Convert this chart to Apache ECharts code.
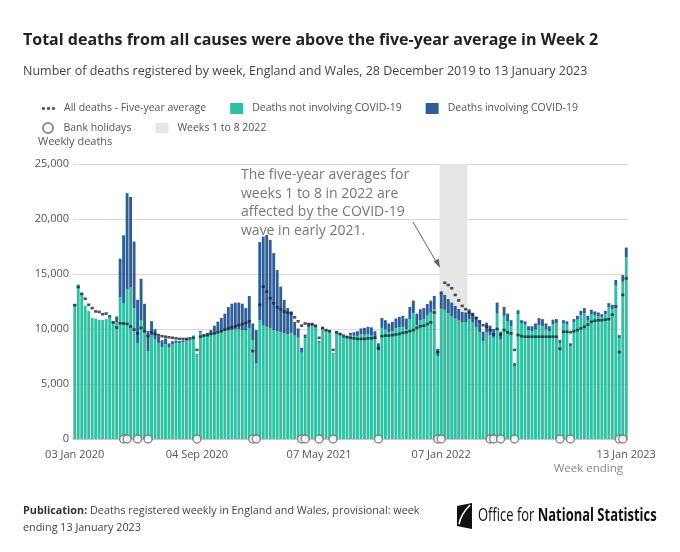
<!DOCTYPE html>
<html>
<head>
<meta charset="utf-8">
<script src="https://cdn.jsdelivr.net/npm/echarts@6/dist/echarts.min.js"></script>
<style>
html, body { margin: 0; padding: 0; background: #fff; }
#main { width: 680px; height: 552px; }
</style>
</head>
<body>
<div id="main"></div>
<script>
// week ending dates, 03 Jan 2020 to 13 Jan 2023
var months = ['Jan','Feb','Mar','Apr','May','Jun','Jul','Aug','Sep','Oct','Nov','Dec'];
var weeks = [];
for(var t = Date.UTC(2020, 0, 3); t <= Date.UTC(2023, 0, 13); t += 7 * 864e5){
	var d = new Date(t);
	weeks.push(('0' + d.getUTCDate()).slice(-2) + ' ' + months[d.getUTCMonth()] + ' ' + d.getUTCFullYear());
}
var labelWeeks = ['03 Jan 2020', '04 Sep 2020', '07 May 2021', '07 Jan 2022', '13 Jan 2023'];

// deaths not involving COVID-19
var nonCovid = [
	12254, 14058, 13240, 12125, 11620, 10990, 10940, 10840, 10820, 10900,
	11015, 10550, 10600, 12910, 12310, 13590, 13760, 11910, 8730, 10760,
	9700, 8000, 9410, 9080, 8740, 8370, 8610, 8320, 8590, 8730,
	8710, 8800, 8960, 8950, 9320, 7660, 9710, 9380, 9410, 9550,
	9650, 9700, 9750, 9800, 9850, 9900, 9950, 9950, 9900, 9850,
	10100, 9000, 6900,
	10800, 10300, 10200, 10100, 9900, 9800, 9700, 9600, 9500, 9650,
	9400, 9200, 7850, 9150, 10120, 10280, 10120, 8750, 10010, 9780,
	9690, 7700, 9690, 9480, 9170, 9230, 9420, 9380, 9380, 9500,
	9480, 9500, 9400, 9080, 8050, 10100, 9950, 9680, 9800, 10070,
	10150, 10200, 9970, 10900, 11430, 10350, 10800, 10900, 11220, 11480,
	11800, 7550,
	11840, 11750, 11430, 11150, 10950, 10770, 10600, 10600, 10890, 10580,
	10170, 9720, 8910, 9680, 9450, 9200, 11400, 9060, 11200, 10700,
	10250, 6600, 11350, 10500, 10400, 9900, 9800, 9950, 10350, 10250,
	9950, 9800, 10450, 10550, 8700, 10500, 10400, 8450, 10600, 10850,
	11250, 11450, 10750, 11350, 11250, 11150, 11050, 11350, 12000, 11800,
	13950, 9150, 14300, 16500
];
// deaths involving COVID-19
var covid = [
	0, 0, 0, 0, 0, 0, 0, 0, 0, 0,
	5, 100, 540, 3480, 6210, 8760, 8240, 6040, 3930, 3810,
	2590, 1820, 1300, 900, 600, 610, 530, 370, 300, 220,
	190, 150, 140, 100, 80, 80, 100, 140, 220, 350,
	650, 970, 1250, 1600, 2150, 2400, 2450, 2450, 2400, 2050,
	2900, 1500, 3000,
	7100, 8100, 8350, 8000, 7000, 5550, 4150, 3050, 2400, 1950,
	1250, 850, 450, 350, 280, 220, 180, 150, 140, 120,
	110, 100, 110, 120, 130, 170, 230, 320, 420, 550,
	620, 700, 750, 720, 650, 900, 850, 820, 850, 880,
	950, 1000, 980, 1100, 1150, 1050, 1000, 1000, 1050, 1100,
	1200, 650,
	1400, 1350, 1300, 1250, 1150, 1050, 950, 900, 900, 900,
	950, 950, 850, 900, 850, 800, 1000, 700, 800, 700,
	550, 300, 350, 300, 300, 350, 450, 550, 650, 650,
	550, 450, 400, 350, 300, 300, 300, 250, 300, 350,
	400, 450, 450, 400, 350, 350, 300, 300, 350, 400,
	500, 300, 600, 900
];
// all deaths, five-year average
var fiveYearAvg = [
	12175, 13822, 13200, 12750, 12200, 11900, 11600, 11550, 11350, 11400,
	11150, 10600, 10130, 10520, 10500, 10460, 10220, 9940, 9600, 10100,
	9800, 9370, 9700, 9550, 9450, 9350, 9300, 9250, 9200, 9150,
	9100, 9100, 9100, 9150, 9200, 8100, 9300, 9400, 9450, 9550,
	9600, 9700, 9800, 9950, 10050, 10150, 10250, 10350, 10450, 10550,
	10700, 8000, null,
	12200, 13850, 13390, 12790, 12330, 11970, 11790, 11580, 11480, 11420,
	11060, 10700, 10300, 10500, 10450, 10450, 10300, 9200, 10100, 9900,
	9800, 8100, 9700, 9550, 9400, 9250, 9200, 9150, 9100, 9100,
	9100, 9150, 9150, 9200, 8250, 9350, 9400, 9400, 9450, 9500,
	9550, 9650, 9700, 9800, 9900, 10100, 10250, 10300, 10450, 10600,
	11500, 7900,
	13300, 14200, 14000, 13700, 13100, 12600, 12100, 11800, 11500, 11300,
	11000, 10700, 10350, 10200, 9900, 9500, 10000, 9500, 9900, 9700,
	9600, 8100, 9450, 9350, 9300, 9300, 9300, 9300, 9300, 9300,
	9300, 9300, 9300, 9300, 8200, 9750, 9750, 9700, 9800, 9900,
	10050, 10200, 10400, 10650, 10750, 10800, 10800, 10850, 10900, 11300,
	12050, 7900, 13100, 14600
];
var bankHolidays = [
	'10 Apr 2020', '17 Apr 2020', '08 May 2020', '29 May 2020', '04 Sep 2020',
	'25 Dec 2020', '01 Jan 2021', '02 Apr 2021', '09 Apr 2021', '07 May 2021',
	'04 Jun 2021', '03 Sep 2021', '31 Dec 2021', '07 Jan 2022', '15 Apr 2022',
	'22 Apr 2022', '06 May 2022', '03 Jun 2022', '02 Sep 2022', '23 Sep 2022',
	'30 Dec 2022', '06 Jan 2023'
];
// weeks 1 to 8 2022
var shadedFrom = '07 Jan 2022';
var shadedTo = '25 Feb 2022';
var yTicks = [0, 5000, 10000, 15000, 20000, 25000];

var FONT = '"Open Sans", sans-serif';
var dashIcon = 'path://M0,0h3v2.6h-3z M5,0h3v2.6h-3z M10,0h3v2.6h-3z';

var chart = echarts.init(document.getElementById('main'), null, {renderer : 'canvas'});

var legendText = {
	fontSize : 10.5,
	color : '#555',
	fontFamily : FONT,
	padding : [0, 0, 0, 4]
};

//grey band: one rect from the first shaded week to the last, full band width
var renderBand = function(params, api){
	var topLeft = api.coord([api.value(0), api.value(2)]);
	var bottomRight = api.coord([api.value(1), 0]);
	var w = api.size([1, 0])[0];
	return {
		type : 'rect',
		shape : {
			x : topLeft[0] - w / 2,
			y : topLeft[1],
			width : bottomRight[0] - topLeft[0] + w,
			height : bottomRight[1] - topLeft[1]
		},
		style : api.style()
	};
};

var option = {
	animation : false,
	backgroundColor : '#fff',
	textStyle : {fontFamily : FONT},
	grid : {left : 73, right : 52, top : 164, bottom : 113},
	legend : [
		{
			data : [
				{name : 'All deaths - Five-year average', icon : dashIcon},
				{name : 'Deaths not involving COVID-19', icon : 'rect'},
				{name : 'Deaths involving COVID-19', icon : 'rect'}
			],
			left : 37, top : 98,
			itemWidth : 13, itemHeight : 11, itemGap : 24,
			selectedMode : false,
			textStyle : legendText
		},
		{
			data : [
				{name : 'Bank holidays', icon : 'circle'},
				{name : 'Weeks 1 to 8 2022', icon : 'rect'}
			],
			left : 37, top : 117,
			itemWidth : 13, itemHeight : 10, itemGap : 24,
			selectedMode : false,
			textStyle : legendText
		}
	],
	xAxis : {
		type : 'category',
		data : weeks,
		axisLine : {lineStyle : {color : '#c8c8c8'}},
		axisTick : {show : false},
		axisLabel : {
			color : '#555',
			fontSize : 11,
			fontFamily : FONT,
			margin : 10,
			interval : function(idx, value){
				return labelWeeks.indexOf(value) > -1;
			}
		}
	},
	yAxis : {
		type : 'value',
		min : yTicks[0],
		max : yTicks[yTicks.length - 1],
		interval : yTicks[1] - yTicks[0],
		axisLine : {show : false},
		axisTick : {show : false},
		splitLine : {lineStyle : {color : '#dadada'}},
		axisLabel : {
			color : '#555',
			fontSize : 11,
			fontFamily : FONT,
			margin : 4,
			formatter : function(v){ return v.toLocaleString('en-GB'); }
		}
	},
	series : [
		{
			name : 'Weeks 1 to 8 2022',
			type : 'custom',
			z : 1,
			silent : true,
			itemStyle : {color : '#e6e6e6'},
			encode : {x : [0, 1], y : 2},
			data : [[shadedFrom, shadedTo, yTicks[yTicks.length - 1]]],
			renderItem : renderBand
		},
		{
			name : 'Deaths not involving COVID-19',
			type : 'bar',
			stack : 'deaths',
			barCategoryGap : '18%',
			z : 2,
			itemStyle : {color : '#2ec2a2'},
			emphasis : {disabled : true},
			data : nonCovid
		},
		{
			name : 'Deaths involving COVID-19',
			type : 'bar',
			stack : 'deaths',
			z : 2,
			itemStyle : {color : '#2d5e98'},
			emphasis : {disabled : true},
			data : covid
		},
		{
			name : 'All deaths - Five-year average',
			type : 'scatter',
			symbol : 'rect',
			symbolSize : [3.2, 2.6],
			z : 3,
			itemStyle : {color : '#1d2438'},
			emphasis : {disabled : true},
			data : fiveYearAvg.map(function(v){ return v === null ? '-' : v; })
		},
		{
			name : 'Bank holidays',
			type : 'scatter',
			symbol : 'circle',
			symbolSize : 8,
			clip : false,
			z : 4,
			itemStyle : {color : '#fff', borderColor : '#707070', borderWidth : 1.5},
			emphasis : {disabled : true},
			data : bankHolidays.map(function(w){ return [w, 0]; })
		}
	],
	graphic : [
		{
			type : 'text', x : 23, y : 40,
			style : {
				text : 'Total deaths from all causes were above the five-year average in Week 2',
				fontSize : 16, fontWeight : 'bold', fontFamily : FONT,
				fill : '#222', verticalAlign : 'middle'
			}
		},
		{
			type : 'text', x : 23, y : 71,
			style : {
				text : 'Number of deaths registered by week, England and Wales, 28 December 2019 to 13 January 2023',
				fontSize : 12.5, fontFamily : FONT, fill : '#444', verticalAlign : 'middle'
			}
		},
		{
			type : 'text', x : 38, y : 142,
			style : {
				text : 'Weekly deaths',
				fontSize : 11, fontFamily : FONT, fill : '#555', verticalAlign : 'middle'
			}
		},
		{
			type : 'text', x : 623, y : 469,
			style : {
				text : 'Week ending',
				fontSize : 11.5, fontFamily : FONT, fill : '#888',
				align : 'right', verticalAlign : 'middle'
			}
		},
		//annotation
		{
			type : 'text', x : 241, y : 166, z : 10,
			style : {
				text : 'The five-year averages for\nweeks 1 to 8 in 2022 are\naffected by the COVID-19\nwave in early 2021.',
				fontSize : 14, lineHeight : 18.5, fontFamily : FONT, fill : '#777'
			}
		},
		{
			type : 'line', z : 10,
			shape : {x1 : 413, y1 : 222, x2 : 438, y2 : 265},
			style : {stroke : '#666', lineWidth : 1}
		},
		{
			type : 'polygon', z : 10,
			shape : {points : [[440, 268], [433.6, 261.6], [438.8, 258.6]]},
			style : {fill : '#666'}
		},
		//footer
		{
			type : 'text', x : 23, y : 502,
			style : {
				text : '{b|Publication:} Deaths registered weekly in England and Wales, provisional: week\nending 13 January 2023',
				fontSize : 10.8, lineHeight : 17, fontFamily : FONT, fill : '#444',
				rich : {b : {fontWeight : 'bold', fontSize : 10.8, fontFamily : FONT, fill : '#333'}}
			}
		},
		//ONS logo
		{
			type : 'polygon',
			shape : {points : [[457, 506], [472, 503], [472, 529], [457, 526]]},
			style : {fill : '#111'}
		},
		{
			type : 'bezierCurve',
			shape : {x1 : 459, y1 : 524, x2 : 470, y2 : 505, cpx1 : 461, cpy1 : 514},
			style : {stroke : '#fff', lineWidth : 1.6, fill : null}
		},
		{
			type : 'text', x : 478, y : 516, scaleX : 0.72,
			style : {
				text : '{a|Office for }{b|National Statistics}',
				verticalAlign : 'middle',
				rich : {
					a : {fontSize : 18, fontFamily : FONT, fill : '#111'},
					b : {fontSize : 18, fontWeight : 'bold', fontFamily : FONT, fill : '#111'}
				}
			}
		}
	]
};

chart.setOption(option);
</script>
</body>
</html>
